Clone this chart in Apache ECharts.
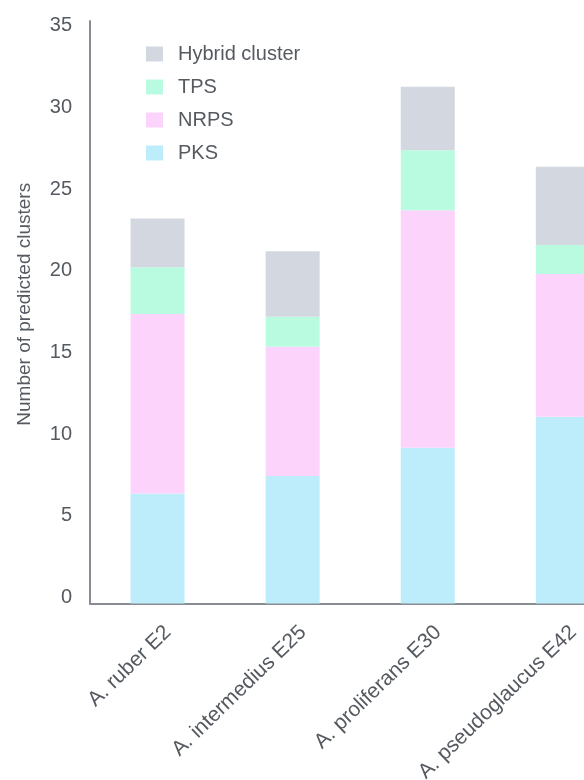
<!DOCTYPE html>
<html>
<head>
<meta charset="utf-8">
<script src="https://cdn.jsdelivr.net/npm/echarts@6/dist/echarts.min.js"></script>
<style>
  html, body { margin: 0; padding: 0; background: #ffffff; }
  #chart { width: 584px; height: 780px; }
</style>
</head>
<body>
<div id="chart"></div>
<script>
const categories = ['A. ruber E2', 'A. intermedius E25', 'A. proliferans E30', 'A. pseudoglaucus E42'];
const pks = [6.74, 7.80, 9.53, 11.43];
const nrps = [10.98, 7.92, 14.55, 8.74];
const tps = [2.86, 1.83, 3.67, 1.77];
const hybrid = [2.99, 4.02, 3.88, 4.79];
const yTicks = [0, 5, 10, 15, 20, 25, 30, 35];

const textColor = '#555a61';
const axisColor = '#898c92';
const fontFamily = "'Liberation Sans', Arial, sans-serif";

const chart = echarts.init(document.getElementById('chart'), null, { renderer: 'canvas' });

function bar(name, data, color) {
  return {
    name: name,
    type: 'bar',
    stack: 'total',
    data: data,
    barWidth: 54,
    itemStyle: { color: color },
    emphasis: { disabled: true }
  };
}

chart.setOption({
  backgroundColor: '#ffffff',
  animation: false,
  textStyle: { fontFamily: fontFamily },
  legend: {
    orient: 'vertical',
    left: 141,
    top: 39,
    itemWidth: 17,
    itemHeight: 15,
    itemGap: 13,
    icon: 'rect',
    data: ['Hybrid cluster', 'TPS', 'NRPS', 'PKS'],
    textStyle: { color: textColor, fontSize: 20, lineHeight: 20, fontFamily: fontFamily, padding: [0, 0, 0, 10] }
  },
  grid: { left: 90, width: 540.4, top: 21, bottom: 176.5, containLabel: false, outerBoundsMode: 'none' },
  xAxis: {
    type: 'category',
    data: categories,
    axisLine: { show: true, lineStyle: { color: axisColor, width: 2 } },
    axisTick: { show: false },
    axisLabel: {
      interval: 0,
      rotate: 44,
      margin: 15,
      color: textColor,
      fontSize: 21,
      fontFamily: fontFamily,
      align: 'right',
      verticalAlign: 'top',
      lineHeight: 30
    }
  },
  yAxis: {
    type: 'value',
    min: 0,
    max: 35.66,
    interval: 5,
    name: 'Number of predicted clusters',
    nameLocation: 'middle',
    nameGap: 56,
    nameTextStyle: { color: textColor, fontSize: 19, fontFamily: fontFamily, padding: [0, 0, 0, 16] },
    axisLine: { show: true, lineStyle: { color: axisColor, width: 2 } },
    axisTick: { show: false },
    splitLine: { show: false },
    axisLabel: {
      color: textColor,
      fontSize: 20,
      margin: 18,
      fontFamily: fontFamily,
      verticalAlign: 'bottom',
      lineHeight: 12,
      formatter: function (v) { return yTicks.indexOf(v) >= 0 ? String(v) : ''; }
    }
  },
  series: [
    bar('PKS', pks, '#bdedfb'),
    bar('NRPS', nrps, '#fcd3fa'),
    bar('TPS', tps, '#b8fbe0'),
    bar('Hybrid cluster', hybrid, '#d3d8e0')
  ]
});
</script>
</body>
</html>
